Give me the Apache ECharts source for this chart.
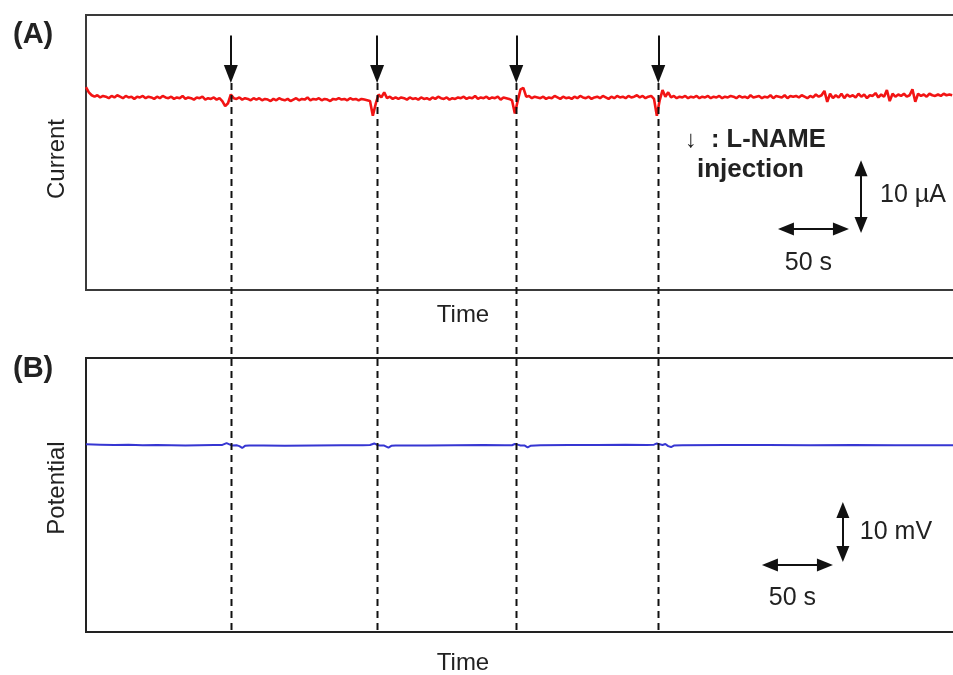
<!DOCTYPE html>
<html><head><meta charset="utf-8">
<script src="https://cdn.jsdelivr.net/npm/echarts@6/dist/echarts.min.js"></script>
<style>html,body{margin:0;padding:0;background:#fff}#c{width:953px;height:675px}</style>
</head><body><div id="c"></div>
<script>
// ---------- data ----------
const currentStep = 2; // seconds between current samples
const currentValues = [ // µA, sampled every 2 s from t = 0
 27.8,27.1,26.7,26.5,26.7,26.4,26.6,26.5,26.3,26.6,
 26.4,26.7,26.5,26.3,26.6,26.4,26.5,26.2,26.5,26.4,
 26.6,26.3,26.5,26.4,26.2,26.5,26.3,26.6,26.4,26.3,
 26.5,26.2,26.4,26.3,26.6,26.2,26.4,26.3,26.1,26.4,
 26.3,26.5,26.1,26.3,26.2,26.4,26.1,26.3,25.9,25.2,
 25.6,26.8,26.3,26.2,26.4,26.1,26.3,26.2,26.0,26.3,
 26.1,26.3,26.0,26.2,26.1,25.9,26.2,26.0,26.3,26.1,
 26.0,26.2,25.9,26.1,26.3,26.0,26.2,26.1,26.4,26.0,
 26.2,26.1,26.3,26.0,26.2,26.1,25.9,26.2,26.1,26.3,
 26.1,26.2,26.0,26.3,26.1,26.2,26.0,26.2,26.1,26.0,
 25.9,23.9,25.5,26.8,26.4,27.1,26.3,26.5,26.2,26.4,
 26.2,26.4,26.3,26.1,26.4,26.2,26.3,26.1,26.4,26.2,
 26.3,26.1,26.4,26.2,26.5,26.3,26.2,26.4,26.1,26.3,
 26.2,26.4,26.3,26.5,26.2,26.4,26.3,26.6,26.2,26.4,
 26.3,26.5,26.2,26.4,26.3,26.5,26.1,26.4,26.3,26.2,
 26.0,24.2,25.9,27.5,27.7,26.5,26.6,26.3,26.5,26.4,
 26.3,26.5,26.2,26.4,26.3,26.6,26.4,26.2,26.5,26.3,
 26.4,26.2,26.5,26.3,26.6,26.4,26.3,26.5,26.2,26.4,
 26.5,26.3,26.6,26.4,26.2,26.5,26.3,26.6,26.4,26.5,
 26.3,26.6,26.4,26.5,26.7,26.4,26.6,26.3,26.5,26.6,
 26.2,23.9,26.0,27.4,26.5,27.1,26.4,26.6,26.3,26.5,
 26.4,26.6,26.3,26.5,26.4,26.6,26.3,26.5,26.4,26.6,
 26.3,26.5,26.4,26.6,26.3,26.5,26.4,26.6,26.5,26.3,
 26.6,26.4,26.5,26.3,26.7,26.4,26.5,26.6,26.3,26.5,
 26.4,26.7,26.3,26.6,26.5,26.4,26.7,26.3,26.6,26.5,
 26.6,26.4,26.7,26.5,26.3,26.6,26.4,26.8,26.5,26.7,
 27.3,25.8,26.9,26.3,26.7,26.4,26.9,26.3,26.8,26.5,
 26.7,26.4,26.9,26.5,26.8,26.3,26.7,26.6,27.0,26.4,
 26.8,26.5,27.4,25.9,26.9,26.5,26.8,26.6,26.9,26.5,
 26.7,27.5,25.8,26.9,26.6,26.8,26.5,26.9,26.7,26.6,
 26.8,26.6,26.9,26.7,26.8,26.7
];
const potentialTimes = [0,10,20,30,40,50,60,70,80,90,96,99,101,103,106,108,110,112,115,125,140,160,180,195,
 200,203,205,207,210,213,215,218,240,260,280,295,300,302,304,306,309,311,313,320,340,360,380,395,
 400,402,404,406,408,410,412,414,420,450,480,510,540,570,600,614];
const potentialValues = [31.3,31.25,31.2,31.25,31.15,31.2,31.15,31.1,31.15,31.2,31.2,31.5,31.3,31.1,31.15,31.0,30.7,31.05,31.1,31.1,31.05,31.1,31.15,31.15,
 31.2,31.45,31.2,31.1,31.1,30.75,31.05,31.1,31.1,31.15,31.2,31.15,31.15,31.35,31.25,31.1,31.1,30.8,31.05,31.15,31.2,31.2,31.25,31.2,
 31.25,31.45,31.3,31.2,31.35,31.0,30.85,31.1,31.15,31.2,31.2,31.15,31.2,31.15,31.15,31.15];
const injectionTimes = [102, 205, 303, 403]; // s, L-NAME injections
const xLabel = 'Time';
const yLabelA = 'Current';
const yLabelB = 'Potential';
const scaleTime = 50;      // s
const scaleCurrent = 10;   // µA
const scalePotential = 10; // mV

// ---------- chart ----------
const FONT = '"Liberation Sans", Arial, sans-serif';
const chart = echarts.init(document.getElementById('c'));
const currentData = currentValues.map((v, i) => [i * currentStep, v]);
const potentialData = potentialTimes.map((t, i) => [t, potentialValues[i]]);

const hiddenAxis = {axisLine:{show:false}, axisTick:{show:false}, axisLabel:{show:false}, splitLine:{show:false}};

// layout scales (px per unit)
const PX_T = 1.42, PX_A = 275 / 37.7, PX_B = 274 / 45.7;
// annotation anchors (data units)
const HEAD = 16;            // arrow-head length in px
const arrowTopA = 34.9;     // top of injection arrows
const arrowTipPx = 83;      // injection arrow tip (px from top)
const arrowHeadCenterA = (290 - (arrowTipPx - 9)) / PX_A;
const sbA = {t0: 487.3, y: 8.36, vx: 545.8, vy0: 7.8};
const sbB = {t0: 476, y: 11.17, vx: 533, vy0: 11.67};
const insetT = (HEAD / 2) / PX_T, insetA = (HEAD / 2) / PX_A, insetB = (HEAD / 2) / PX_B;

function ml(g, lines, sym, size) {
  return {type:'line', xAxisIndex: g, yAxisIndex: g, data: [], markLine: {
    silent: true, symbol: sym, symbolSize: size, label:{show:false},
    lineStyle: {color:'#111', width: 2, type:'solid'}, emphasis:{disabled:true},
    data: lines
  }};
}

const option = {
  animation: false,
  backgroundColor: '#fff',
  grid: [
    {left: 86, top: 15, width: 880, height: 275, show: true, borderColor: '#3a3a3a', borderWidth: 2, backgroundColor: 'transparent', outerBoundsMode: 'none', containLabel: false},
    {left: 86, top: 358, width: 880, height: 274, show: true, borderColor: '#222', borderWidth: 2, backgroundColor: 'transparent', outerBoundsMode: 'none', containLabel: false}
  ],
  xAxis: [
    Object.assign({gridIndex: 0, type: 'value', min: 0, max: 880 / PX_T}, hiddenAxis),
    Object.assign({gridIndex: 1, type: 'value', min: 0, max: 880 / PX_T}, hiddenAxis)
  ],
  yAxis: [
    Object.assign({gridIndex: 0, type: 'value', min: 0, max: 37.7}, hiddenAxis),
    Object.assign({gridIndex: 1, type: 'value', min: 0, max: 45.7}, hiddenAxis)
  ],
  series: [
    {type: 'line', xAxisIndex: 0, yAxisIndex: 0, data: currentData, showSymbol: false, silent: true,
     lineStyle: {color: '#f21414', width: 2.6}},
    {type: 'line', xAxisIndex: 1, yAxisIndex: 1, data: potentialData, showSymbol: false, silent: true,
     lineStyle: {color: '#3636d2', width: 2}},
    ml(0, injectionTimes.map(t => [{coord: [t, arrowTopA]}, {coord: [t, arrowHeadCenterA]}]), ['none', 'triangle'], [14, 18]),
    ml(0, [
      [{coord: [sbA.t0 + insetT, sbA.y]}, {coord: [sbA.t0 + scaleTime - insetT, sbA.y]}],
      [{coord: [sbA.vx, sbA.vy0 + insetA]}, {coord: [sbA.vx, sbA.vy0 + scaleCurrent - insetA]}]
    ], ['triangle', 'triangle'], [13, HEAD]),
    ml(1, [
      [{coord: [sbB.t0 + insetT, sbB.y]}, {coord: [sbB.t0 + scaleTime - insetT, sbB.y]}],
      [{coord: [sbB.vx, sbB.vy0 + insetB]}, {coord: [sbB.vx, sbB.vy0 + scalePotential - insetB]}]
    ], ['triangle', 'triangle'], [13, HEAD])
  ]
};
chart.setOption(option);

const graphics = [];
injectionTimes.forEach(t => {
  const p1 = chart.convertToPixel({gridIndex: 0}, [t, arrowHeadCenterA]);
  const p2 = chart.convertToPixel({gridIndex: 1}, [t, 0]);
  const x = Math.round(p1[0]) + 0.5;
  graphics.push({type: 'line', silent: true, z: 10,
    shape: {x1: x, y1: p1[1] + 9, x2: x, y2: p2[1]},
    style: {stroke: '#111', lineWidth: 2, lineDash: [7, 5]}});
});
function txt(x, y, s, opt, rot) {
  graphics.push({type: 'text', silent: true, z: 20, x: x, y: y, rotation: rot || 0,
    style: Object.assign({text: s, fontFamily: FONT, fontSize: 24, fill: '#222', verticalAlign: 'middle', align: 'left'}, opt || {})});
}
txt(13, 35, '(A)', {fontWeight: 'bold', fontSize: 29});
txt(13, 369, '(B)', {fontWeight: 'bold', fontSize: 29});
txt(463, 315, xLabel, {align: 'center'});
txt(463, 663, xLabel, {align: 'center'});
txt(57, 159, yLabelA, {align: 'center'}, Math.PI / 2);
txt(57, 488, yLabelB, {align: 'center'}, Math.PI / 2);
txt(685, 140, '\u2193', {fontWeight: 'bold', fontSize: 24});
txt(711, 140, ': L-NAME', {fontWeight: 'bold', fontSize: 25.5});
txt(697, 170, 'injection', {fontWeight: 'bold', fontSize: 26});
const a1 = chart.convertToPixel({gridIndex: 0}, [sbA.vx, sbA.vy0 + scaleCurrent / 2]);
txt(a1[0] + 19, a1[1] - 2, '10 \u00b5A', {fontSize: 25});
const a2 = chart.convertToPixel({gridIndex: 0}, [sbA.t0 + scaleTime / 2, sbA.y]);
txt(a2[0] - 5, a2[1] + 34, '50 s', {align: 'center', fontSize: 25});
const b1 = chart.convertToPixel({gridIndex: 1}, [sbB.vx, sbB.vy0 + scalePotential / 2]);
txt(b1[0] + 17, b1[1], '10 mV', {fontSize: 25});
const b2 = chart.convertToPixel({gridIndex: 1}, [sbB.t0 + scaleTime / 2, sbB.y]);
txt(b2[0] - 5, b2[1] + 33, '50 s', {align: 'center', fontSize: 25});
chart.setOption({graphic: graphics});
</script></body></html>
